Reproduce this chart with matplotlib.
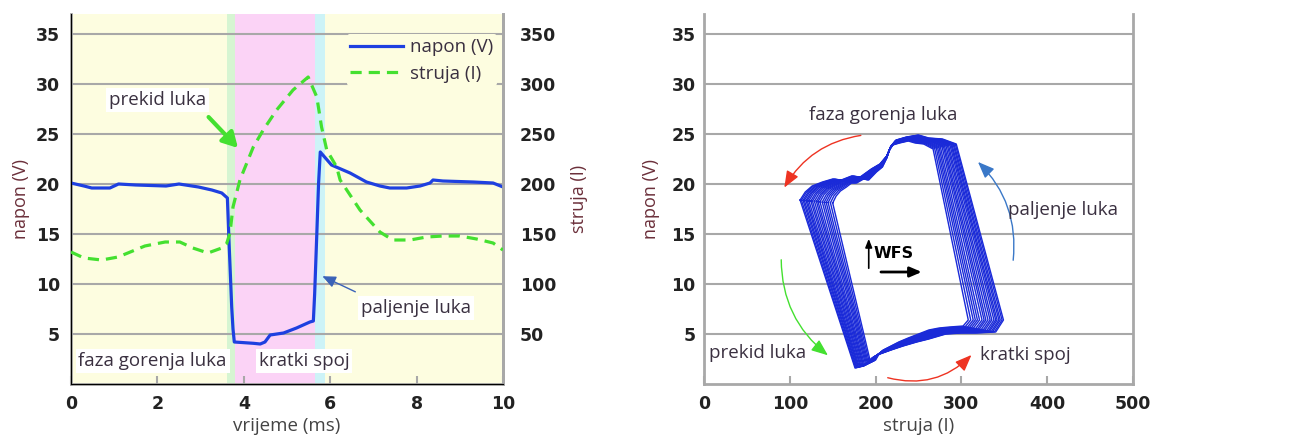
import numpy as np
import matplotlib
matplotlib.use('Agg')
import matplotlib.pyplot as plt

# vremenski dijagram (lijevo)
t_napon = [0.0, 0.3, 0.48, 0.9, 1.1, 1.5, 2.2, 2.5, 2.95, 3.26, 3.49, 3.62, 3.66, 3.72, 3.75, 3.78,
           4.22, 4.38, 4.49, 4.61, 4.92, 5.22, 5.53, 5.61, 5.64, 5.69, 5.73, 5.77, 6.03, 6.46,
           6.84, 7.15, 7.38, 7.77, 8.08, 8.31, 8.38, 8.61, 9.31, 9.77, 10.0]
napon = [20.1, 19.8, 19.6, 19.6, 20.0, 19.9, 19.8, 20.0, 19.7, 19.4, 19.1, 18.6, 14.0, 7.7, 5.5, 4.2,
         4.07, 4.0, 4.2, 4.9, 5.1, 5.6, 6.2, 6.3, 9.0, 15.0, 20.0, 23.2, 21.9, 21.1,
         20.2, 19.8, 19.6, 19.6, 19.8, 20.1, 20.4, 20.3, 20.2, 20.1, 19.7]

t_struja = [0.0, 0.3, 0.71, 1.09, 1.71, 2.18, 2.52, 2.82, 3.17, 3.49, 3.6, 3.68, 3.75, 3.91, 4.22,
            4.45, 4.76, 5.14, 5.49, 5.69, 5.8, 5.92, 6.15, 6.23, 6.69, 7.15, 7.45, 7.85, 8.23,
            8.61, 9.0, 9.39, 9.77, 10.0]
struja = [132, 126, 124, 127, 138, 142, 142, 136, 131, 136, 140, 151, 177, 204, 237,
          254, 274, 294, 307, 287, 257, 234, 217, 204, 174, 152, 144, 144, 147,
          148, 148, 145, 141, 134]

# faze (ms)
faze = [(0.0, 3.61, '#fdfde0'), (3.61, 3.80, '#d6f5d2'), (3.80, 5.65, '#fbd3f6'),
        (5.65, 5.88, '#cdf3f7'), (5.88, 10.0, '#fdfde0')]

# U-I petlja (desno): osnovna petlja, raspon pomaka i udio pomaka po ciklusu
petlja_I = [112, 118, 126, 138, 150, 160, 172, 182, 195, 205, 213, 218, 224, 236, 250, 262, 278, 294,
            349, 340, 318, 300, 282, 262, 248, 232, 218, 205, 196, 186, 176, 112]
petlja_V = [18.4, 19.2, 19.8, 20.2, 20.5, 20.4, 20.8, 20.7, 21.5, 22.0, 22.8, 23.8, 24.4, 24.7, 24.9,
            24.6, 24.5, 24.0, 6.4, 5.2, 5.1, 5.1, 5.0, 4.5, 4.2, 3.8, 3.4, 3.0, 2.6, 1.8, 1.6, 18.4]
pomak_I = [38, 36, 33, 28, 22, 18, 14, 10, 6, 3, 0, -2, -4, -8, -12, -16, -22, -27,
           -41, -38, -32, -26, -20, -15, -10, -5, 0, 4, 8, 14, 18, 38]
pomak_V = [-0.3, -0.4, -0.5, -0.5, -0.4, -0.3, -0.3, -0.3, -0.3, -0.3, -0.2, -0.4, -0.5, -0.6, -0.6,
           -0.5, -0.5, -0.5, 0.0, 0.6, 0.6, 0.5, 0.4, 0.4, 0.4, 0.4, 0.4, 0.4, 0.4, 0.6, 0.6, -0.3]
ciklusi = [0.0, 0.04, 0.09, 0.13, 0.18, 0.22, 0.27, 0.33, 0.38, 0.44, 0.5, 0.55, 0.61, 0.68,
           0.74, 0.8, 0.86, 0.93, 1.0]

v_ticks = [5, 10, 15, 20, 25, 30, 35]
i_ticks = [50, 100, 150, 200, 250, 300, 350]

plt.rcParams['font.family'] = ['Open Sans', 'DejaVu Sans']
txt_col = '#3a3040'
lab_col = '#6b2f3a'
grid_col = '#a8a8a8'
blue = '#1e40e0'
green = '#44e030'

fig = plt.figure(figsize=(12.93, 4.42), dpi=100)
ax1 = fig.add_axes([71 / 1293, 58 / 442, 432 / 1293, 370 / 442])
ax3 = fig.add_axes([704 / 1293, 58 / 442, 429 / 1293, 370 / 442])


def style_axes(ax):
    for s in ['left', 'bottom', 'right']:
        ax.spines[s].set_color(grid_col)
        ax.spines[s].set_linewidth(2)
    ax.spines['top'].set_visible(False)
    ax.tick_params(axis='y', length=0, pad=8, labelsize=12.5, labelcolor='#222222')
    ax.tick_params(axis='x', direction='in', length=6, color=grid_col, width=1.5,
                   pad=8, labelsize=12.5, labelcolor='#222222')
    for lb in ax.get_xticklabels() + ax.get_yticklabels():
        lb.set_fontweight('bold')
        lb.set_family('DejaVu Sans')
    for v in v_ticks:
        ax.axhline(v, color=grid_col, lw=1.5, zorder=1)


# ---- lijevi dijagram ----
for a, b, c in faze:
    ax1.axvspan(a, b, color=c, lw=0, zorder=0)
ax1.set_xlim(0, 10)
ax1.set_ylim(0, 37)
ax1.set_xticks([0, 2, 4, 6, 8, 10])
ax1.set_yticks(v_ticks)
style_axes(ax1)
l1, = ax1.plot(t_napon, napon, color=blue, lw=2.3, zorder=3, label='napon (V)')
ax1.set_xlabel('vrijeme (ms)', fontsize=13.5, color='#444444', labelpad=3)
ax1.set_ylabel('napon (V)', fontsize=13, color=lab_col, labelpad=4)

ax2 = ax1.twinx()
ax2.set_ylim(0, 370)
ax2.set_yticks(i_ticks)
ax2.spines['top'].set_visible(False)
ax2.spines['right'].set_color(grid_col)
ax2.spines['right'].set_linewidth(2)
ax2.tick_params(axis='y', length=0, pad=12, labelsize=12.5, labelcolor='#222222')
for lb in ax2.get_yticklabels():
    lb.set_fontweight('bold')
    lb.set_family('DejaVu Sans')
l2, = ax2.plot(t_struja, struja, color=green, lw=2.3, ls=(0, (3.5, 2.2)), zorder=3, label='struja (I)')
ax2.set_ylabel('struja (I)', fontsize=13, color=lab_col, labelpad=10)

leg = ax2.legend(handles=[l1, l2], loc='upper right', fontsize=13.5, frameon=True,
                 facecolor='#fdfde0', edgecolor='none', framealpha=1,
                 handlelength=2.8, handletextpad=0.4, borderpad=0.2, borderaxespad=0.3,
                 labelspacing=0.45, bbox_to_anchor=(1.0, 0.96))
for t in leg.get_texts():
    t.set_color(txt_col)

box = dict(boxstyle='square,pad=0.15', fc='white', ec='none')
ax1.text(2.01, 28.4, 'prekid luka', fontsize=13.5, color=txt_col, ha='center', va='center', bbox=box, zorder=5)
ax1.annotate('', xy=(3.91, 23.4), xytext=(3.14, 26.9),
             arrowprops=dict(arrowstyle='-|>,head_length=0.9,head_width=0.5', color=green, lw=3), zorder=5)
ax1.text(7.98, 7.6, 'paljenje luka', fontsize=13.5, color=txt_col, ha='center', va='center', bbox=box, zorder=5)
ax1.annotate('', xy=(5.76, 10.9), xytext=(6.64, 9.1),
             arrowprops=dict(arrowstyle='-|>,head_length=0.8,head_width=0.35', color='#3a62b8', lw=1), zorder=5)
ax1.text(0.17, 2.3, 'faza gorenja luka', fontsize=13.5, color=txt_col, ha='left', va='center', bbox=box, zorder=5)
ax1.text(4.35, 2.3, 'kratki spoj', fontsize=13.5, color=txt_col, ha='left', va='center', bbox=box, zorder=5)

# ---- desni dijagram ----
ax3.set_xlim(0, 500)
ax3.set_ylim(0, 37)
ax3.set_xticks([0, 100, 200, 300, 400, 500])
ax3.set_yticks(v_ticks)
style_axes(ax3)
ax3.yaxis.set_tick_params(pad=6)
base_I = np.array(petlja_I, dtype=float)
base_V = np.array(petlja_V, dtype=float)
for c in ciklusi:
    ax3.plot(base_I + c * np.array(pomak_I), base_V + c * np.array(pomak_V),
             color='#1a2ad8', lw=1.0, zorder=3)
ax3.set_xlabel('struja (I)', fontsize=13.5, color='#444444', labelpad=3)
ax3.set_ylabel('napon (V)', fontsize=13, color=lab_col, labelpad=8)

red = '#ee3322'
ax3.annotate('', xy=(92, 19.4), xytext=(186, 24.9),
             arrowprops=dict(arrowstyle='-|>,head_length=1.0,head_width=0.4', color=red, lw=1,
                             connectionstyle='arc3,rad=0.25'))
ax3.annotate('', xy=(317, 22.4), xytext=(360, 12.1),
             arrowprops=dict(arrowstyle='-|>,head_length=1.0,head_width=0.4', color='#3a78c8', lw=1,
                             connectionstyle='arc3,rad=0.25'))
ax3.annotate('', xy=(147, 2.7), xytext=(90, 12.7),
             arrowprops=dict(arrowstyle='-|>,head_length=1.0,head_width=0.4', color=green, lw=1,
                             connectionstyle='arc3,rad=0.25'))
ax3.annotate('', xy=(314, 3.1), xytext=(211, 0.7),
             arrowprops=dict(arrowstyle='-|>,head_length=1.0,head_width=0.4', color=red, lw=1,
                             connectionstyle='arc3,rad=0.3'))
ax3.text(209, 26.9, 'faza gorenja luka', fontsize=13.5, color=txt_col, ha='center', va='center')
ax3.text(418, 17.4, 'paljenje luka', fontsize=13.5, color=txt_col, ha='center', va='center')
ax3.text(63, 3.1, 'prekid luka', fontsize=13.5, color=txt_col, ha='center', va='center')
ax3.text(374, 2.9, 'kratki spoj', fontsize=13.5, color=txt_col, ha='center', va='center')
ax3.text(197, 13.0, 'WFS', fontsize=11.5, fontweight='bold', family='DejaVu Sans', color='black',
         ha='left', va='center')
ax3.annotate('', xy=(192, 14.8), xytext=(192, 11.3),
             arrowprops=dict(arrowstyle='-|>,head_length=0.5,head_width=0.2', color='black', lw=1.2))
ax3.annotate('', xy=(257, 11.2), xytext=(203, 11.2),
             arrowprops=dict(arrowstyle='-|>,head_length=0.7,head_width=0.3', color='black', lw=2))

fig.savefig('out.png', dpi=100)
